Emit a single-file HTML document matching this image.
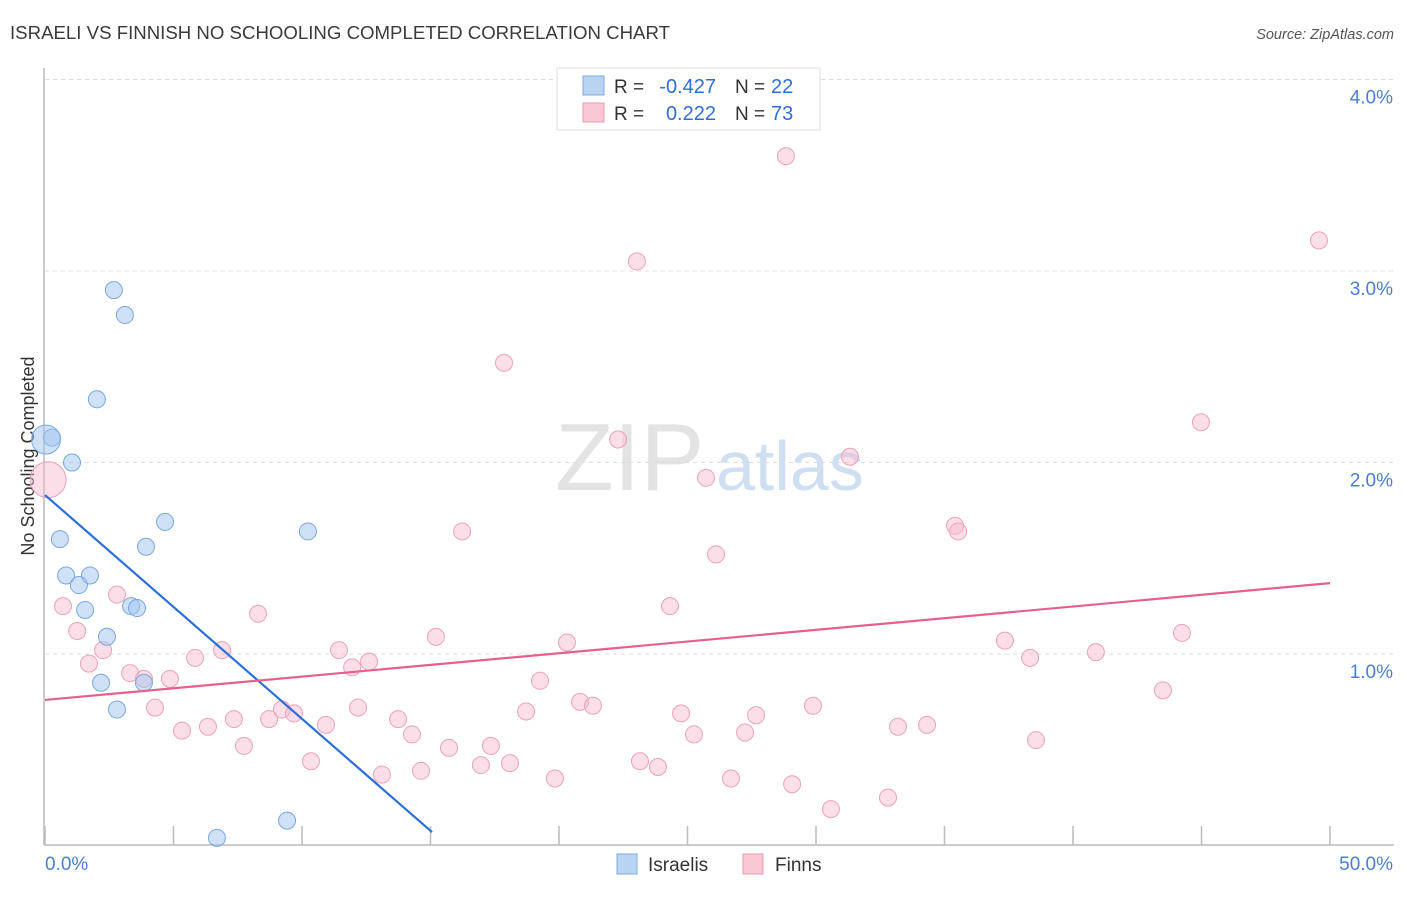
<!DOCTYPE html>
<html><head><meta charset="utf-8"><style>
body{margin:0;background:#fff;font-family:"Liberation Sans",sans-serif}
svg text{font-family:"Liberation Sans",sans-serif}
</style></head><body>
<svg id="chart" width="1406" height="892" viewBox="0 0 1406 892">
<text x="10" y="39" font-size="18" fill="#3a3a3a" textLength="660" lengthAdjust="spacingAndGlyphs">ISRAELI VS FINNISH NO SCHOOLING COMPLETED CORRELATION CHART</text>
<text x="1394" y="39" font-size="14.5" fill="#555" font-style="italic" text-anchor="end">Source: ZipAtlas.com</text>
<g><text x="555" y="490" font-size="96" fill="#e3e3e3" font-family="Liberation Serif">ZIP</text><text x="716" y="490" font-size="70" fill="#cfdff2">atlas</text></g>
<g id="grid"></g>
<line x1="44" y1="68" x2="44" y2="845" stroke="#bbb" stroke-width="1.5"/>
<line x1="44" y1="845" x2="1394" y2="845" stroke="#bbb" stroke-width="1.5"/>
<g id="xticks"></g>
<text x="34" y="456" font-size="18" fill="#333" text-anchor="middle" transform="rotate(-90 34 456)">No Schooling Completed</text>
<text x="45" y="870" font-size="19" fill="#4a7fd0">0.0%</text>
<text x="1393" y="870" font-size="19" fill="#4a7fd0" text-anchor="end">50.0%</text>
<g id="pts"></g>
<g id="lines"></g>
<g>
<rect x="557" y="68" width="263" height="62" fill="#fff" stroke="#ddd"/>
<rect x="583" y="76" width="21" height="19" fill="#b9d3f3" stroke="#7ea9e0"/>
<rect x="583" y="103" width="21" height="19" fill="#f9c6d4" stroke="#eb9ab2"/>
<text x="614" y="93" font-size="19" fill="#333">R =</text>
<text x="716" y="93" font-size="20" fill="#2f6fd0" text-anchor="end">-0.427</text>
<text x="735" y="93" font-size="19" fill="#333">N =</text>
<text x="771" y="93" font-size="20" fill="#2f6fd0">22</text>
<text x="614" y="120" font-size="19" fill="#333">R =</text>
<text x="716" y="120" font-size="20" fill="#2f6fd0" text-anchor="end">0.222</text>
<text x="735" y="120" font-size="19" fill="#333">N =</text>
<text x="771" y="120" font-size="20" fill="#2f6fd0">73</text>
</g>
<g>
<rect x="617" y="854" width="20" height="20" fill="#b9d3f3" stroke="#7ea9e0"/>
<text x="648" y="871" font-size="19" fill="#333">Israelis</text>
<rect x="743" y="854" width="20" height="20" fill="#f9c6d4" stroke="#eb9ab2"/>
<text x="775" y="871" font-size="19" fill="#333">Finns</text>
</g>
</svg>
<script>
const yTicks=[1,2,3,4];
const yTickLabels=["1.0%","2.0%","3.0%","4.0%"];
const xTickVals=[0,5,10,15,20,25,30,35,40,45,50];
const isrX=[2.68,3.11,2.02,0.27,0.04,1.05,4.67,10.23,0.58,3.93,0.82,1.75,1.32,1.56,3.35,3.58,2.41,2.18,3.85,2.80,9.42,6.69];
const isrY=[2.90,2.77,2.33,2.13,2.12,2.00,1.69,1.64,1.60,1.56,1.41,1.41,1.36,1.23,1.25,1.24,1.09,0.85,0.85,0.71,0.13,0.04];
const isrSize=[1,1,1,1,1.7,1,1,1,1,1,1,1,1,1,1,1,1,1,1,1,1,1];
const finX=[28.83,49.57,23.03,17.86,44.98,22.30,31.32,25.72,0.12,16.23,35.41,35.53,26.11,2.80,0.70,24.32,8.29,1.25,15.21,44.24,37.35,20.31,11.44,6.89,38.33,40.89,2.26,5.84,1.71,12.61,11.95,3.31,3.85,4.86,19.26,43.50,20.82,21.32,29.88,4.28,12.18,18.72,9.22,9.69,24.75,27.67,13.74,7.35,8.72,6.34,10.93,5.33,33.19,34.32,25.25,27.24,14.28,38.56,7.74,15.72,17.35,10.35,23.15,16.96,18.09,23.85,13.11,14.63,26.69,19.84,29.07,32.80,30.58];
const finY=[3.60,3.16,3.05,2.52,2.21,2.12,2.03,1.92,1.91,1.64,1.67,1.64,1.52,1.31,1.25,1.25,1.21,1.12,1.09,1.11,1.07,1.06,1.02,1.02,0.98,1.01,1.02,0.98,0.95,0.96,0.93,0.90,0.87,0.87,0.86,0.81,0.75,0.73,0.73,0.72,0.72,0.70,0.71,0.69,0.69,0.68,0.66,0.66,0.66,0.62,0.63,0.60,0.62,0.63,0.58,0.59,0.58,0.55,0.52,0.51,0.52,0.44,0.44,0.42,0.43,0.41,0.37,0.39,0.35,0.35,0.32,0.25,0.19];
const isrTrend=[[0,1.83],[15.06,0.07]];
const finTrend=[[0,0.76],[50,1.37]];
const NS="http://www.w3.org/2000/svg";
const xs=v=>45+v*25.7, ys=v=>845.5-v*191.5;
function mk(t,a,p){const e=document.createElementNS(NS,t);for(const k in a)e.setAttribute(k,a[k]);p.appendChild(e);return e;}
const grid=document.getElementById('grid');
yTicks.forEach((t,i)=>{
 const l=mk('line',{x1:45,x2:1394,y1:ys(t),y2:ys(t),stroke:'#ddd','stroke-dasharray':'4 4'},grid);
 
 
 const tx=mk('text',{x:1393,y:ys(t)+24,'font-size':19,fill:'#4a7fd0','text-anchor':'end'},grid);
 tx.textContent=yTickLabels[i];
 
 
});
const xt=document.getElementById('xticks');
xTickVals.forEach(v=>{
 const l=mk('line',{x1:xs(v),x2:xs(v),y1:826,y2:845,stroke:'#bbb','stroke-width':1.5},xt);
 
 
});
const pts=document.getElementById('pts');
finX.forEach((x,i)=>{
 const r=i===8?18:8.5;
 const c=mk('circle',{cx:xs(x),cy:ys(finY[i]),r:r,fill:'rgba(247,182,201,0.45)',stroke:'#eba3b9','stroke-width':1},pts);
 
 
});
isrX.forEach((x,i)=>{
 const c=mk('circle',{cx:xs(x),cy:ys(isrY[i]),r:8.5*isrSize[i],fill:'rgba(160,196,240,0.5)',stroke:'#7aa7e2','stroke-width':1},pts);
 
 
});
const lg=document.getElementById('lines');
const b=mk('line',{x1:xs(isrTrend[0][0]),y1:ys(isrTrend[0][1]),x2:xs(isrTrend[1][0]),y2:ys(isrTrend[1][1]),stroke:'#2b6fd6','stroke-width':2.2},lg);


const p=mk('line',{x1:xs(finTrend[0][0]),y1:ys(finTrend[0][1]),x2:xs(finTrend[1][0]),y2:ys(finTrend[1][1]),stroke:'#e5618d','stroke-width':2.2},lg);


</script>
</body></html>
